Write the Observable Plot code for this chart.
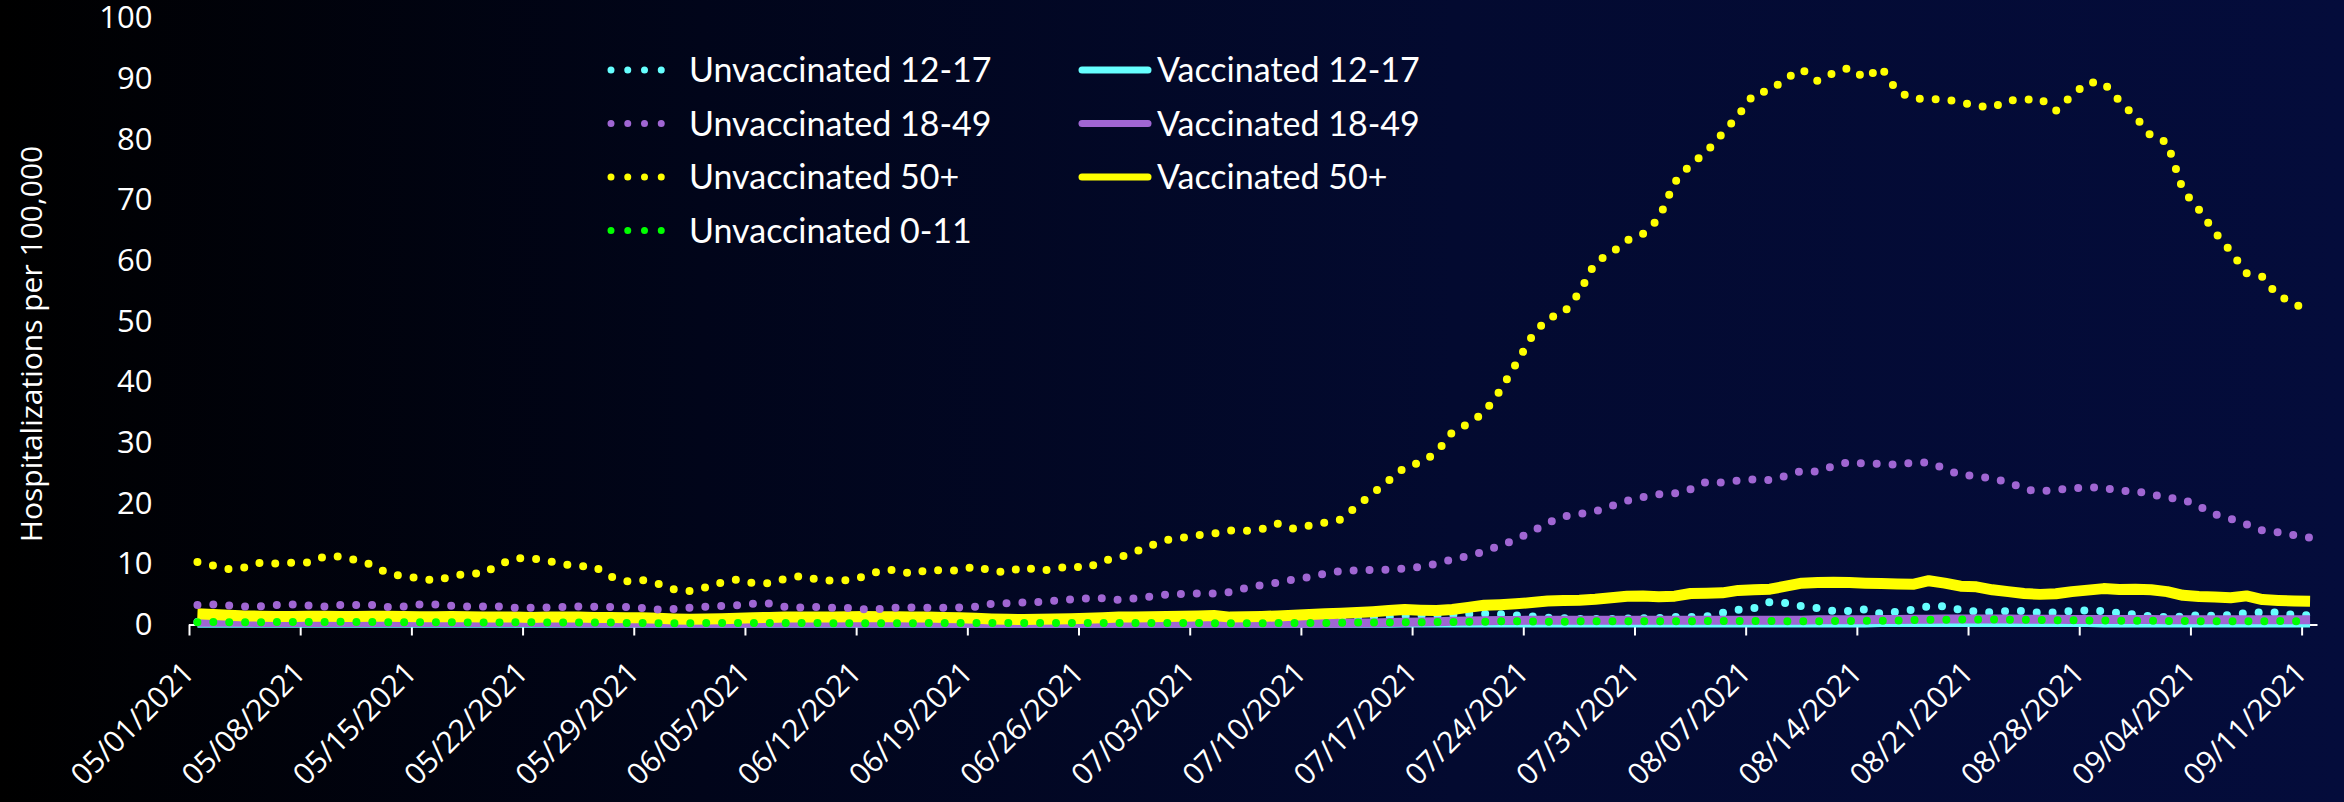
<!DOCTYPE html>
<html><head><meta charset="utf-8">
<script src="https://cdn.jsdelivr.net/npm/d3@7"></script>
<script src="https://cdn.jsdelivr.net/npm/@observablehq/plot@0.6"></script>
<style>
html,body{margin:0;padding:0;}
body{width:2344px;height:802px;overflow:hidden;position:relative;
  background:linear-gradient(to right,#000000 0%,#01051a 30%,#030a30 62%,#040c3b 100%);}
#chart{position:absolute;left:0;top:0;}
#overlay{position:absolute;left:0;top:0;}
</style></head><body>
<div id="chart"></div>
<svg id="overlay" width="2344" height="802"></svg>
<script>
// ---- data (daily, 05/01/2021 .. 09/11/2021) ----
const startDate = "2021-05-01";
const nDays = 134;
const yTicks = [0,10,20,30,40,50,60,70,80,90,100];
const xTickLabels = ["05/01/2021","05/08/2021","05/15/2021","05/22/2021","05/29/2021","06/05/2021","06/12/2021","06/19/2021","06/26/2021","07/03/2021","07/10/2021","07/17/2021","07/24/2021","07/31/2021","08/07/2021","08/14/2021","08/21/2021","08/28/2021","09/04/2021","09/11/2021"];
const yLabel = "Hospitalizations per 100,000";

const unvax1217 = [0.5,0.5,0.45,0.45,0.4,0.45,0.45,0.4,0.4,0.4,
0.4,0.4,0.35,0.35,0.35,0.35,0.35,0.3,0.3,0.3,
0.3,0.3,0.3,0.3,0.3,0.3,0.3,0.3,0.3,0.3,
0.3,0.25,0.25,0.25,0.3,0.3,0.3,0.3,0.3,0.3,
0.3,0.3,0.3,0.3,0.3,0.3,0.3,0.3,0.3,0.35,
0.35,0.35,0.35,0.4,0.4,0.45,0.45,0.5,0.5,0.55,
0.6,0.6,0.65,0.7,0.7,0.75,0.8,0.85,0.9,0.95,
1.0,1.05,1.1,1.2,1.2,1.3,1.5,1.55,1.55,1.7,
1.8,1.85,1.8,1.6,1.4,1.2,1.1,1.0,1.0,1.0,
1.05,1.1,1.15,1.3,1.3,1.4,2.0,2.5,2.8,3.8,
3.6,3.1,2.8,2.3,2.3,2.6,1.85,2.2,2.5,3.1,
3.1,2.5,2.2,2.06,2.3,2.3,2.0,2.06,2.3,2.4,
2.3,1.95,1.7,1.4,1.3,1.4,1.6,1.5,1.65,1.95,
2.1,2.06,1.65,1.6];

const unvax1849 = [3.3,3.4,3.2,3.05,3.1,3.3,3.4,3.2,3.05,3.3,
3.3,3.3,2.95,3.05,3.4,3.4,3.15,3.05,3.05,3.05,
2.85,2.85,2.9,2.95,3.05,3.0,2.95,2.95,2.8,2.55,
2.65,2.85,3.0,3.15,3.25,3.5,3.55,3.0,2.9,2.95,
2.85,2.8,2.6,2.65,2.85,2.9,2.85,2.85,2.9,3.0,
3.5,3.6,3.7,3.8,4.0,4.2,4.4,4.4,4.15,4.4,
4.7,5.0,5.1,5.2,5.2,5.4,6.1,6.6,7.0,7.5,
7.9,8.5,8.9,9.0,9.1,9.1,9.3,9.6,10.1,10.8,
11.4,12.1,13.1,14.1,15.4,16.8,17.9,18.3,18.75,19.6,
20.5,21.1,21.55,21.7,22.4,23.6,23.5,23.8,24.0,23.9,
24.6,25.4,25.3,26.2,26.9,26.6,26.6,26.4,26.8,26.8,
25.8,24.7,24.6,24.1,23.6,22.4,22.0,22.3,22.5,22.7,
22.65,22.1,22.1,21.55,21.0,20.7,19.6,18.25,17.5,16.6,
15.6,15.3,14.8,14.4];

const unvax50 = [10.4,9.8,9.2,9.5,10.3,10.1,10.3,10.3,11.3,11.3,
10.7,9.9,8.5,8.0,7.7,7.3,8.0,8.5,8.5,10.0,
11.0,11.0,10.6,10.0,9.7,9.6,8.0,7.2,7.4,6.8,
5.9,5.6,6.2,7.0,7.5,6.9,6.9,7.6,8.1,7.5,
7.3,7.4,8.0,9.0,9.1,8.4,9.1,9.0,9.0,9.7,
8.9,8.7,9.6,8.9,9.3,9.7,9.4,10.6,11.1,12.0,
13.1,14.0,14.4,14.8,15.1,15.6,15.5,15.8,16.7,15.9,
16.4,16.9,17.4,19.6,21.7,23.8,26.0,26.8,28.4,31.8,
33.2,35.0,38.6,43.0,47.5,50.6,51.4,54.8,59.8,61.3,
63.4,64.5,67.0,73.0,75.9,78.0,81.0,84.0,87.6,88.1,
90.1,91.6,89.7,91.0,91.9,90.1,92.0,88.0,86.8,86.7,
86.7,86.2,85.6,85.3,86.5,86.6,86.8,84.8,87.3,89.5,
89.4,86.4,83.8,80.6,79.6,71.7,68.5,64.8,61.6,58.0,
57.4,54.2,53.2,51.0];

const unvax011 = [0.45,0.5,0.45,0.45,0.45,0.5,0.5,0.5,0.5,0.55,
0.5,0.5,0.45,0.45,0.45,0.45,0.45,0.4,0.4,0.4,
0.45,0.45,0.4,0.4,0.4,0.4,0.4,0.35,0.35,0.3,
0.3,0.3,0.35,0.35,0.35,0.35,0.35,0.35,0.35,0.35,
0.3,0.3,0.3,0.3,0.3,0.3,0.35,0.35,0.35,0.35,
0.35,0.35,0.35,0.35,0.35,0.35,0.35,0.35,0.35,0.35,
0.35,0.35,0.35,0.35,0.3,0.3,0.3,0.3,0.35,0.35,
0.35,0.35,0.35,0.4,0.4,0.4,0.45,0.45,0.5,0.5,
0.55,0.55,0.6,0.6,0.6,0.55,0.55,0.6,0.6,0.6,
0.6,0.6,0.6,0.6,0.6,0.65,0.65,0.65,0.65,0.65,
0.6,0.6,0.6,0.65,0.65,0.7,0.7,0.75,0.8,0.85,
0.85,0.9,0.9,0.9,0.85,0.85,0.85,0.8,0.8,0.75,
0.75,0.7,0.7,0.7,0.65,0.65,0.6,0.6,0.6,0.6,
0.6,0.65,0.6,0.6];

const vax1217 = [0.05,0.05,0.05,0.05,0.05,0.05,0.05,0.05,0.05,0.05,
0.05,0.05,0.05,0.05,0.05,0.05,0.05,0.05,0.05,0.05,
0.05,0.05,0.05,0.05,0.05,0.05,0.05,0.05,0.05,0.05,
0.05,0.05,0.05,0.05,0.05,0.05,0.05,0.05,0.05,0.05,
0.05,0.05,0.05,0.05,0.05,0.05,0.05,0.05,0.05,0.05,
0.05,0.05,0.05,0.05,0.05,0.05,0.05,0.05,0.05,0.05,
0.05,0.05,0.05,0.05,0.05,0.05,0.05,0.05,0.05,0.05,
0.05,0.05,0.05,0.05,0.05,0.05,0.1,0.1,0.1,0.1,
0.1,0.1,0.1,0.1,0.1,0.1,0.1,0.1,0.1,0.1,
0.1,0.1,0.1,0.1,0.1,0.1,0.1,0.1,0.1,0.1,
0.1,0.1,0.1,0.1,0.1,0.1,0.15,0.15,0.15,0.15,
0.15,0.15,0.15,0.15,0.15,0.15,0.15,0.15,0.15,0.15,
0.1,0.1,0.1,0.1,0.1,0.1,0.1,0.1,0.1,0.1,
0.1,0.1,0.1,0.1];

const vax1849 = [0.45,0.45,0.45,0.45,0.4,0.4,0.4,0.4,0.4,0.4,
0.4,0.4,0.4,0.4,0.4,0.4,0.4,0.4,0.4,0.4,
0.4,0.4,0.4,0.35,0.35,0.35,0.35,0.35,0.35,0.35,
0.3,0.3,0.3,0.3,0.3,0.3,0.35,0.35,0.35,0.35,
0.35,0.35,0.35,0.35,0.35,0.35,0.35,0.3,0.3,0.3,
0.3,0.3,0.3,0.3,0.3,0.3,0.3,0.3,0.3,0.3,
0.3,0.3,0.3,0.3,0.3,0.3,0.3,0.3,0.3,0.3,
0.3,0.3,0.3,0.35,0.35,0.4,0.45,0.5,0.55,0.6,
0.65,0.7,0.75,0.75,0.8,0.8,0.8,0.8,0.8,0.8,
0.8,0.8,0.8,0.8,0.8,0.8,0.8,0.8,0.8,0.8,
0.8,0.8,0.85,0.85,0.85,0.85,0.9,0.9,0.95,0.95,
1.0,1.0,1.0,1.0,1.0,0.95,0.95,0.95,0.9,0.9,
0.9,0.9,0.9,0.9,0.85,0.85,0.85,0.85,0.85,0.85,
0.85,0.85,0.85,0.85];

const vax50 = [1.85,1.75,1.6,1.5,1.45,1.4,1.4,1.45,1.45,1.4,
1.4,1.45,1.45,1.4,1.35,1.35,1.4,1.35,1.3,1.3,
1.3,1.25,1.3,1.3,1.3,1.25,1.25,1.2,1.2,1.1,
1.0,0.95,1.0,1.05,1.1,1.2,1.25,1.3,1.3,1.3,
1.3,1.35,1.4,1.35,1.35,1.3,1.3,1.25,1.2,1.1,
1.0,0.95,0.9,0.95,1.0,1.05,1.1,1.2,1.3,1.3,
1.35,1.4,1.45,1.5,1.55,1.3,1.35,1.4,1.5,1.6,
1.75,1.85,1.95,2.05,2.2,2.4,2.55,2.45,2.4,2.55,
2.9,3.25,3.35,3.5,3.7,3.95,4.05,4.1,4.25,4.5,
4.75,4.8,4.65,4.75,5.2,5.25,5.3,5.7,5.8,5.9,
6.4,6.9,7.0,7.05,7.0,6.9,6.85,6.75,6.7,7.3,
6.9,6.4,6.3,5.8,5.5,5.2,5.05,5.15,5.5,5.75,
6.0,5.85,5.9,5.8,5.5,4.9,4.7,4.6,4.5,4.8,
4.2,4.05,3.95,3.9];

const seriesNames = ["Unvaccinated 12-17","Unvaccinated 18-49","Unvaccinated 50+","Unvaccinated 0-11","Vaccinated 12-17","Vaccinated 18-49","Vaccinated 50+"];
const seriesColors = ["#66FFFF","#A066D3","#FFFF00","#00FF00","#66FFFF","#A066D3","#FFFF00"];
const seriesDotted = [true,true,true,true,false,false,false];
const seriesValues = [unvax1217,unvax1849,unvax50,unvax011,vax1217,vax1849,vax50];
const solidWidths = {"Vaccinated 12-17":6,"Vaccinated 18-49":9,"Vaccinated 50+":11};

// ---- build tables ----
const day0 = d3.utcParse("%Y-%m-%d")(startDate);
function rowsFor(k){
  return seriesValues[k].map((v,i)=>({date:new Date(d3.utcDay.offset(day0,i).getTime()+12*3600*1000), value:v, series:seriesNames[k]}));
}
const xTicks = xTickLabels.map(s=>d3.utcParse("%m/%d/%Y")(s));
const xDomain = [day0, d3.utcDay.offset(day0,nDays)];

const dotStyle = {strokeWidth:8, strokeDasharray:"0,15.9", strokeLinecap:"round", strokeLinejoin:"round"};
function lineMark(k){
  const name = seriesNames[k];
  if (seriesDotted[k]) return Plot.line(rowsFor(k), {x:"date", y:"value", stroke:seriesColors[k], ...dotStyle});
  return Plot.line(rowsFor(k), {x:"date", y:"value", stroke:seriesColors[k], strokeWidth:solidWidths[name], strokeLinecap:"butt", strokeLinejoin:"round"});
}
// draw order: cyan dots under solids, then solids, then other dotted series
const order = [0,4,5,6,1,2,3];

const chart = Plot.plot({
  width:2344, height:802,
  marginLeft:189, marginRight:26.5, marginTop:18, marginBottom:177.5,
  style:{background:"transparent", color:"white", fontFamily:"'Open Sans', sans-serif", fontSize:"30px", overflow:"visible"},
  x:{type:"utc", domain:xDomain},
  y:{domain:[0,100]},
  marks:[
    Plot.axisY({ticks:yTicks, tickSize:0, tickPadding:37, fontSize:31, label:null, fill:"white"}),
    Plot.axisX({ticks:xTicks, tickSize:11, label:null, stroke:"white", strokeWidth:2, text:null}),
    Plot.ruleY([0], {stroke:"white", strokeWidth:2}),
    ...order.map(lineMark)
  ]
});
document.getElementById("chart").appendChild(chart);

// ---- rotated date labels, legend & y title overlay ----
const ov = d3.select("#overlay");
const xs = chart.scale("x"), ys = chart.scale("y");
const axisY0 = ys.apply(0);
xTicks.forEach((d,i)=>{
  const px = xs.apply(d);
  ov.append("text")
    .attr("transform",`translate(${px+7},${axisY0+50}) rotate(-45)`)
    .attr("text-anchor","end").attr("fill","white")
    .style("font-family","'Open Sans', sans-serif").style("font-size","30px")
    .text(xTickLabels[i]);
});
ov.append("text").attr("transform","translate(42,344) rotate(-90)")
  .attr("text-anchor","middle").attr("fill","white")
  .style("font-family","'Open Sans', sans-serif").style("font-size","30px").text(yLabel);
const rowsY = [70,123.5,177,230.5];
const legendFont = "Lato, 'Open Sans', sans-serif";
seriesNames.forEach((name,k)=>{
  const col = seriesDotted[k] ? 0 : 1;
  const row = seriesDotted[k] ? k : k-4;
  const y = rowsY[row];
  if (col===0){
    ov.append("line").attr("x1",611).attr("x2",678).attr("y1",y).attr("y2",y)
      .attr("stroke",seriesColors[k]).attr("stroke-width",7).attr("stroke-linecap","round").attr("stroke-dasharray","0,16.75");
    ov.append("text").attr("x",689).attr("y",y).attr("dy","0.36em").attr("fill","white")
      .style("font-family",legendFont).style("font-size","34px").text(name);
  } else {
    ov.append("line").attr("x1",1082).attr("x2",1148).attr("y1",y).attr("y2",y)
      .attr("stroke",seriesColors[k]).attr("stroke-width",7).attr("stroke-linecap","round");
    ov.append("text").attr("x",1157).attr("y",y).attr("dy","0.36em").attr("fill","white")
      .style("font-family",legendFont).style("font-size","34px").text(name);
  }
});
</script>
</body></html>
